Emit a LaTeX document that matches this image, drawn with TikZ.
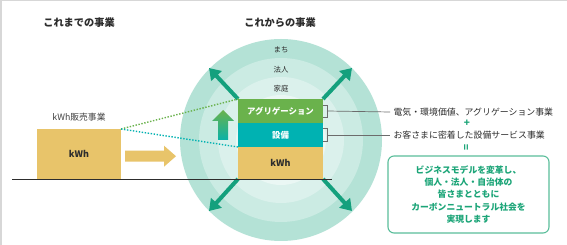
\documentclass[tikz,border=0pt]{standalone}
\usepackage{fontspec}
\setmainfont{Noto Sans CJK JP}
\usetikzlibrary{arrows.meta}
\definecolor{ringA}{RGB}{180,226,214}
\definecolor{ringB}{RGB}{203,235,227}
\definecolor{ringC}{RGB}{219,241,236}
\definecolor{ringD}{RGB}{234,247,244}
\definecolor{aggr}{RGB}{106,178,76}
\definecolor{teal}{RGB}{0,178,178}
\definecolor{kwh}{RGB}{232,196,106}
\definecolor{arrowgreen}{RGB}{20,160,125}
\definecolor{textgreen}{RGB}{28,165,120}
\definecolor{boxgreen}{RGB}{90,190,155}
\definecolor{darktext}{RGB}{45,45,45}
\definecolor{framegray}{RGB}{215,215,215}
\tikzset{
  stackbox/.style={inner sep=0pt, outer sep=0pt, minimum width=85pt, font=\bfseries\fontsize{8.4}{10}\selectfont},
  titletext/.style={font=\bfseries\fontsize{10.2}{12}\selectfont, text=darktext},
  ringlabel/.style={font=\fontsize{7.4}{9}\selectfont, text=darktext},
  sidetext/.style={anchor=west, font=\fontsize{8.9}{10}\selectfont, text=darktext},
  diag/.style={arrowgreen, line width=4pt, -{Triangle[width=14pt,length=11pt]}},
  brk/.style={draw=gray!85!black, line width=0.7pt},
  dotline/.style={line width=1.4pt, dash pattern=on 1.4pt off 1.6pt}
}
\begin{document}
\begin{tikzpicture}[x=1pt,y=-1pt]
\useasboundingbox (0,0) rectangle (567,245);
\fill[white] (0,0) rectangle (567,245);
\draw[framegray, line width=1.5pt] (0.75,245) -- (0.75,0.75) -- (567,0.75);

% rings
\fill[ringA] (281,140) circle (101pt);
\fill[ringB] (281,140) circle (82pt);
\fill[ringC] (281,140) circle (63pt);
\fill[ringD] (281,140) circle (45pt);

% titles
\node[titletext] (tOld) at (79,23) {これまでの事業};
\node[titletext] (tNew) at (280,23) {これからの事業};

% ring labels
\node[ringlabel] (lMachi) at (281,50) {まち};
\node[ringlabel] (lHojin) at (281,70) {法人};
\node[ringlabel] (lKatei) at (281,89) {家庭};

% diagonal arrow ends
\coordinate (dTL) at (209,68);
\coordinate (dTR) at (352,68);
\coordinate (dBL) at (209,211);
\coordinate (dBR) at (352,211);

% stack boxes
\node[stackbox, fill=aggr, minimum height=24pt, text=white] (ag) at (280.5,111) {アグリゲーション};
\node[stackbox, fill=teal, minimum height=24pt, text=white] (sb) at (280.5,135) {設備};
\node[stackbox, fill=kwh, minimum height=32pt, text=darktext, font=\bfseries\fontsize{9}{10}\selectfont] (kw) at (280.5,163) {kWh};

\draw[diag] (ag.north west) -- (dTL);
\draw[diag] (ag.north east) -- (dTR);
\draw[diag] (kw.south west) -- (dBL);
\draw[diag] (kw.south east) -- (dBR);

% old box
\node[inner sep=0pt, outer sep=0pt, fill=kwh, minimum width=84pt, minimum height=50pt, text=darktext, font=\bfseries\fontsize{9}{10}\selectfont] (old) at (79,154) {kWh};
\node[font=\fontsize{8.8}{10}\selectfont, text=darktext!90] (oldlabel) at (79,117) {kWh販売事業};

% dotted connectors
\draw[dotline, aggr] (old.north east) -- (ag.north west);
\draw[dotline, teal] (old.north east) -- (sb.south west);

% ground line
\coordinate (g1) at (12,180);
\coordinate (g2) at (332,180);
\draw[darktext, line width=1pt] (g1) -- (g2);

% yellow right arrow
\fill[kwh] (125,150.7) -- (164,150.7) -- (164,145.7) -- (176,156.2) -- (164,166.7) -- (164,161.7) -- (125,161.7) -- cycle;

% up arrow with gradient
\shade[top color=aggr, bottom color=teal!90!aggr] (223,110) -- (234,121) -- (228,121) -- (228,140) -- (218,140) -- (218,121) -- (212,121) -- cycle;

% right side texts
\node[sidetext] (t1) at (390,112) {電気・環境価値、アグリゲーション事業};
\node[sidetext] (t2) at (390,135) {お客さまに密着した設備サービス事業};
\coordinate (b1) at (327,111);
\coordinate (b2) at (327,135);
\draw[brk] (323,105) -- (327,105) -- (327,117) -- (323,117);
\draw[brk] (323,128.5) -- (327,128.5) -- (327,141.5) -- (323,141.5);
\draw[brk] (b1) -- (t1.west);
\draw[brk] (b2) -- (t2.west);

\node[text=textgreen, font=\bfseries\fontsize{10}{10}\selectfont] (plus) at (467,123.5) {+};
\node[text=textgreen, rotate=90, font=\bfseries\fontsize{10}{10}\selectfont] (eq) at (467,147) {=};

\node[draw=boxgreen, rounded corners=6pt, line width=1.1pt, minimum width=161pt, minimum height=77pt, inner sep=0pt, align=center, text=textgreen, font=\bfseries\fontsize{8.8}{12.2}\selectfont] (msg) at (468.5,194.5) {ビジネスモデルを変革し、\\個人・法人・自治体の\\皆さまとともに\\カーボンニュートラル社会を\\実現します};
\end{tikzpicture}
\end{document}
